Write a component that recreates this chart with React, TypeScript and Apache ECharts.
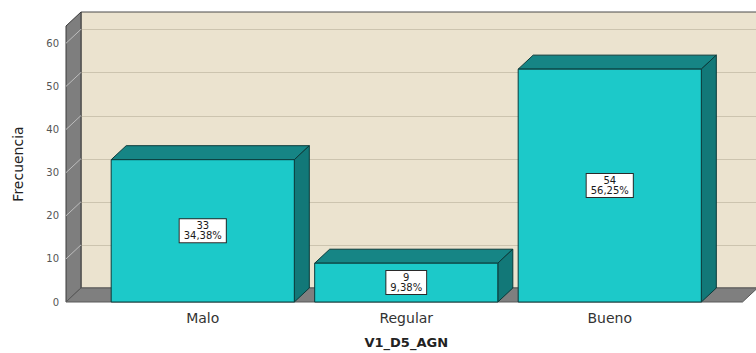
import React, { useEffect, useRef } from "react";
import * as echarts from "echarts";

// Frequency table for V1_D5_AGN
const categories = ["Malo", "Regular", "Bueno"];
const counts = [33, 9, 54];
const percents = ["34,38%", "9,38%", "56,25%"];
const yTicks = [0, 10, 20, 30, 40, 50, 60];

// depth of the pseudo-3D extrusion
const DX = 15;
const DY = 14;
const FONT = "DejaVu Sans";

const frameRender = (params: any, api: any) => {
  const cs = params.coordSys;
  const base = api.coord([0, 0])[1];
  const top = cs.y;
  const left = cs.x - 35;
  const right = cs.x + cs.width + 31;
  const far = 800;
  const children: any[] = [];

  // back wall
  children.push({
    type: "rect",
    shape: { x: left + DX, y: top - DY, width: far, height: base - top },
    style: { fill: "#EBE3CF", stroke: "#4a4a4a", lineWidth: 1 },
  });
  // grid lines on the back wall
  yTicks.slice(1).forEach((v) => {
    const y = Math.round(api.coord([0, v])[1] - DY) + 0.5;
    children.push({
      type: "line",
      shape: { x1: left + DX, y1: y, x2: far, y2: y },
      style: { stroke: "#CCC4AF", lineWidth: 1 },
    });
  });
  // left wall
  children.push({
    type: "polygon",
    shape: {
      points: [
        [left, top],
        [left + DX, top - DY],
        [left + DX, base - DY],
        [left, base],
      ],
    },
    style: { fill: "#7E7E7E", stroke: "#3a3a3a", lineWidth: 1 },
  });
  yTicks.slice(1).forEach((v) => {
    const y = api.coord([0, v])[1];
    children.push({
      type: "line",
      shape: { x1: left, y1: y, x2: left + DX, y2: y - DY },
      style: { stroke: "#BDBDBD", lineWidth: 1 },
    });
  });
  // floor
  children.push({
    type: "polygon",
    shape: {
      points: [
        [left, base],
        [left + DX, base - DY],
        [right + DX, base - DY],
        [right, base],
      ],
    },
    style: { fill: "#7F7F7F", stroke: "#5a5a5a", lineWidth: 1 },
  });
  return { type: "group", children };
};

const barRender = (params: any, api: any) => {
  const idx = api.value(0);
  const val = api.value(1);
  const p0 = api.coord([idx, 0]);
  const p1 = api.coord([idx, val]);
  const band = api.size([1, 0])[0];
  const w = band * 0.9;
  const x0 = p0[0] - w / 2;
  const x1 = p0[0] + w / 2;
  const yb = p0[1];
  const yt = p1[1];
  const stroke = "#0A3a3a";
  return {
    type: "group",
    children: [
      {
        type: "polygon",
        shape: {
          points: [
            [x0, yt],
            [x0 + DX, yt - DY],
            [x1 + DX, yt - DY],
            [x1, yt],
          ],
        },
        style: { fill: "#168585", stroke, lineWidth: 1 },
      },
      {
        type: "polygon",
        shape: {
          points: [
            [x1, yt],
            [x1 + DX, yt - DY],
            [x1 + DX, yb - DY],
            [x1, yb],
          ],
        },
        style: { fill: "#127878", stroke, lineWidth: 1 },
      },
      {
        type: "rect",
        shape: { x: x0, y: yt, width: w, height: yb - yt },
        style: { fill: "#1CC9C9", stroke, lineWidth: 1 },
      },
      {
        type: "text",
        x: p0[0],
        y: (yt + yb) / 2,
        style: {
          text: `${val}\n${percents[params.dataIndex]}`,
          align: "center",
          verticalAlign: "middle",
          fontFamily: FONT,
          fontSize: 10,
          lineHeight: 10,
          fill: "#1a1a1a",
          backgroundColor: "#ffffff",
          borderColor: "#2a2a2a",
          borderWidth: 1,
          padding: [2, 4, 1, 4],
        },
      },
    ],
  };
};

export default function App() {
  const ref = useRef<HTMLDivElement>(null);

  useEffect(() => {
    if (!ref.current) return;
    const chart = echarts.init(ref.current, undefined, { renderer: "svg" });
    chart.setOption({
      animation: false,
      backgroundColor: "#ffffff",
      grid: {
        left: 101,
        right: 44.5,
        top: 26,
        bottom: 51,
        containLabel: false,
        outerBoundsMode: "none",
      },
      xAxis: {
        type: "category",
        data: categories,
        axisLine: { show: false },
        axisTick: { show: false },
        axisLabel: {
          margin: 9,
          fontFamily: FONT,
          fontSize: 14,
          color: "#333333",
        },
        name: "V1_D5_AGN",
        nameLocation: "middle",
        nameGap: 34,
        nameTextStyle: {
          fontFamily: FONT,
          fontSize: 13,
          fontWeight: "bold",
          color: "#222222",
        },
      },
      yAxis: {
        type: "value",
        min: 0,
        max: 64,
        interval: 10,
        axisLine: { show: false },
        axisTick: { show: false },
        splitLine: { show: false },
        axisLabel: {
          margin: 42,
          fontFamily: FONT,
          fontSize: 10,
          color: "#555555",
          formatter: (v: number) => (yTicks.includes(v) ? String(v) : ""),
        },
        name: "Frecuencia",
        nameLocation: "middle",
        nameGap: 76,
        nameRotate: 90,
        nameTextStyle: {
          fontFamily: FONT,
          fontSize: 14,
          color: "#222222",
        },
      },
      series: [
        {
          type: "custom",
          silent: true,
          renderItem: frameRender,
          data: [[0, 0]],
          encode: { x: 0, y: 1 },
        },
        {
          type: "custom",
          renderItem: barRender,
          data: counts.map((c, i) => [i, c]),
          encode: { x: 0, y: 1 },
        },
      ],
    });
    return () => chart.dispose();
  }, []);

  return (
    <div
      ref={ref}
      style={{ position: "fixed", left: 0, top: 0, width: 756, height: 353 }}
    />
  );
}
